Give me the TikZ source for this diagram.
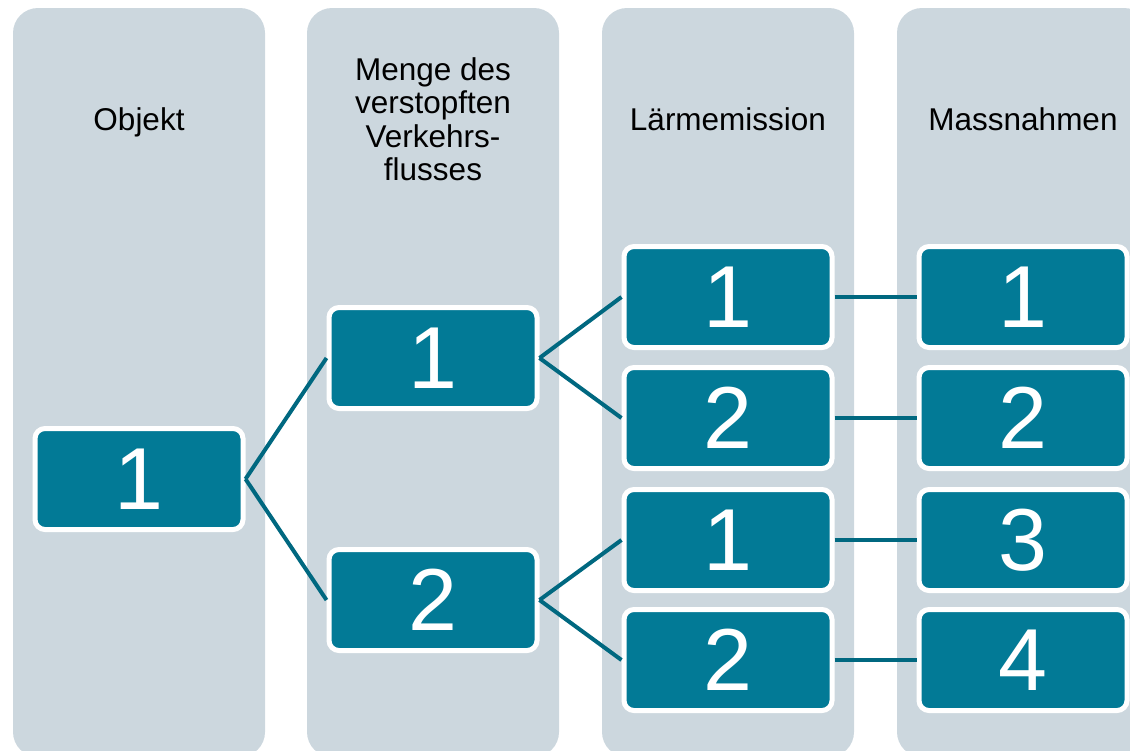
\documentclass[tikz,border=0pt]{standalone}
\usepackage{fontspec}
\setmainfont{Liberation Sans}
\definecolor{lanegray}{RGB}{204,215,222}
\definecolor{boxteal}{RGB}{2,122,150}
\definecolor{linkteal}{RGB}{0,104,128}
\begin{document}
\begin{tikzpicture}[x=1pt,y=-1pt,
  lane/.style={fill=lanegray, draw=none, rounded corners=25pt,
    minimum width=252pt, minimum height=749pt, inner sep=0pt, outer sep=0pt},
  title/.style={font=\fontsize{31.5}{33.5}\selectfont, align=center, text=black},
  item/.style={fill=boxteal, draw=white, line width=5pt, rounded corners=10pt,
    minimum width=208pt, minimum height=101pt, inner sep=0pt,
    text=white, font=\fontsize{88}{88}\selectfont},
  link/.style={draw=linkteal, line width=4pt}]
\useasboundingbox (0,0) rectangle (1130,750);
\clip (0,0) rectangle (1130,750);

% background lanes
\node[lane] (lane1) at (139,382.5) {};
\node[lane] (lane2) at (433,382.5) {};
\node[lane] (lane3) at (728,382.5) {};
\node[lane] (lane4) at (1023,382.5) {};

% lane headings (single-line ones sit on a common baseline)
\node[title, anchor=base] (t1) at (139,130) {Objekt};
\node[title] (t2) at (433,119) {Menge des\\verstopften\\Verkehrs-\\flusses};
\node[title, anchor=base] (t3) at (728,130) {Lärmemission};
\node[title, anchor=base] (t4) at (1023,130) {Massnahmen};

% box centres
\coordinate (c1) at (139,479);
\coordinate (c21) at (433,358);
\coordinate (c22) at (433,600);
\coordinate (c31) at (728,297);
\coordinate (c32) at (728,418);
\coordinate (c33) at (728,540);
\coordinate (c34) at (728,660);
\coordinate (c41) at (1023,297);
\coordinate (c42) at (1023,418);
\coordinate (c43) at (1023,540);
\coordinate (c44) at (1023,660);

% boxes
\node[item] (o1) at (c1) {1};
\node[item] (m1) at (c21) {1};
\node[item] (m2) at (c22) {2};
\node[item] (l1) at (c31) {1};
\node[item] (l2) at (c32) {2};
\node[item] (l3) at (c33) {1};
\node[item] (l4) at (c34) {2};
\node[item] (a1) at (c41) {1};
\node[item] (a2) at (c42) {2};
\node[item] (a3) at (c43) {3};
\node[item] (a4) at (c44) {4};

% tree links
\draw[link] (o1.east) -- (m1.west);
\draw[link] (o1.east) -- (m2.west);
\draw[link] (m1.east) -- (l1.west);
\draw[link] (m1.east) -- (l2.west);
\draw[link] (m2.east) -- (l3.west);
\draw[link] (m2.east) -- (l4.west);
\draw[link] (l1.east) -- (a1.west);
\draw[link] (l2.east) -- (a2.west);
\draw[link] (l3.east) -- (a3.west);
\draw[link] (l4.east) -- (a4.west);
\end{tikzpicture}
\end{document}
